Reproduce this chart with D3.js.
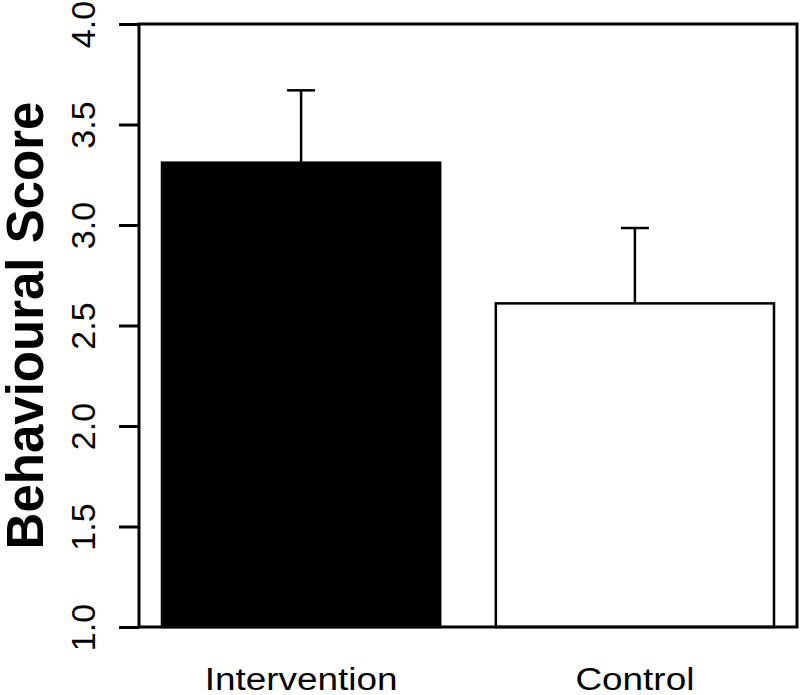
<!DOCTYPE html>
<html>
<head>
<meta charset="utf-8">
<script src="https://cdn.jsdelivr.net/npm/d3@7"></script>
<style>
  body { margin: 0; background: #fff; }
  text { font-family: "Liberation Sans", Arial, sans-serif; }
</style>
</head>
<body>
<svg id="canvas"></svg>
<script>
// data
const groups = ["Intervention", "Control"]
const means = [3.31, 2.61]
const upper = [3.67, 2.985]
const fills = ["#000000", "#ffffff"]
const yTicks = [1.0, 1.5, 2.0, 2.5, 3.0, 3.5, 4.0]

const width = 800
const height = 695

// plot box
const box = { left: 139, right: 797, top: 24, bottom: 627 }

let canvas = d3.select("#canvas")
  .attr("width", width)
  .attr("height", height)

// barplot style positions: width 1, space 0.2
let xScale = d3.scaleLinear()
  .domain([0.2, 2.4])
  .range([162, 774])
let yScale = d3.scaleLinear()
  .domain([1, 4])
  .range([box.bottom, box.top])

let barLeft = (i) => 0.2 + i * 1.2
let barMid = (i) => barLeft(i) + 0.5

// bars
canvas.selectAll("rect.bar")
  .data(means)
  .enter()
  .append("rect")
  .attr("class", "bar")
  .attr("x", (d, i) => xScale(barLeft(i)))
  .attr("width", (d, i) => xScale(barLeft(i) + 1) - xScale(barLeft(i)))
  .attr("y", (d) => yScale(d))
  .attr("height", (d) => yScale(1) - yScale(d))
  .attr("fill", (d, i) => fills[i])
  .attr("stroke", "#000")
  .attr("stroke-width", 2.5)

// error bars (upper half only)
let err = canvas.append("g")
  .attr("stroke", "#000")
  .attr("stroke-width", 2.5)
err.selectAll("line.stem")
  .data(upper)
  .enter()
  .append("line")
  .attr("x1", (d, i) => xScale(barMid(i)))
  .attr("x2", (d, i) => xScale(barMid(i)))
  .attr("y1", (d, i) => yScale(means[i]))
  .attr("y2", (d) => yScale(d))
err.selectAll("line.cap")
  .data(upper)
  .enter()
  .append("line")
  .attr("x1", (d, i) => xScale(barMid(i)) - 14)
  .attr("x2", (d, i) => xScale(barMid(i)) + 14)
  .attr("y1", (d) => yScale(d))
  .attr("y2", (d) => yScale(d))

// box
canvas.append("rect")
  .attr("x", box.left)
  .attr("y", box.top)
  .attr("width", box.right - box.left)
  .attr("height", box.bottom - box.top)
  .attr("fill", "none")
  .attr("stroke", "#000")
  .attr("stroke-width", 3)

// y axis
let yAxis = d3.axisLeft(yScale)
  .tickValues(yTicks)
  .tickFormat(d3.format(".1f"))
  .tickSize(20)
  .tickPadding(0)
let gy = canvas.append("g")
  .attr("transform", `translate(${box.left}, 0)`)
  .call(yAxis)
gy.select(".domain").remove()
gy.selectAll(".tick line").attr("stroke", "#000").attr("stroke-width", 3)
gy.selectAll(".tick text")
  .attr("x", null)
  .attr("dy", null)
  .attr("text-anchor", "middle")
  .attr("transform", "translate(-44, 0) rotate(-90)")
  .attr("font-size", 34)
  .attr("fill", "#000")

// x category labels
canvas.selectAll("text.cat")
  .data(groups)
  .enter()
  .append("text")
  .attr("class", "cat")
  .attr("text-anchor", "middle")
  .attr("font-size", 31)
  .attr("transform", (d, i) => `translate(${xScale(barMid(i))}, 690) scale(1.19, 1)`)
  .text((d) => d)

// y title
canvas.append("text")
  .attr("text-anchor", "middle")
  .attr("font-weight", "bold")
  .attr("font-size", 51)
  .attr("transform", `translate(43, ${(box.top + box.bottom) / 2}) rotate(-90)`)
  .text("Behavioural Score")
</script>
</body>
</html>
